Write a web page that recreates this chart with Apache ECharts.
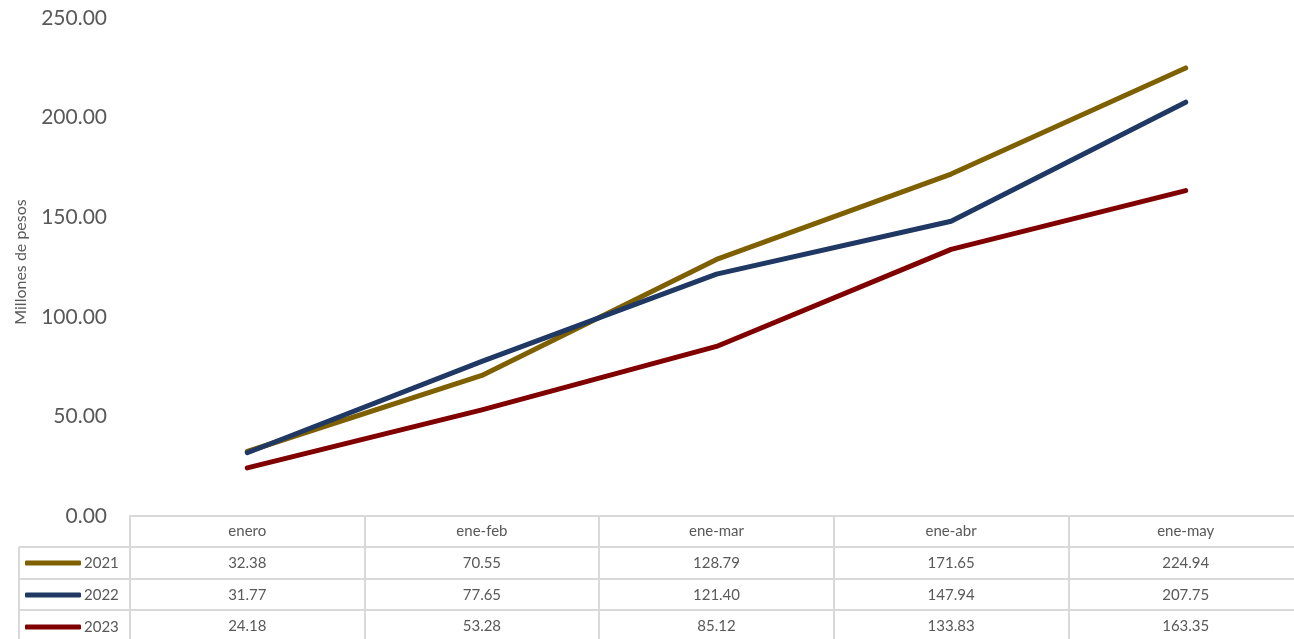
<!DOCTYPE html>
<html><head><meta charset="utf-8">
<script src="https://cdn.jsdelivr.net/npm/echarts@6/dist/echarts.min.js"></script>
<style>html,body{margin:0;padding:0;background:#fff;overflow:hidden;width:1294px;height:639px}#c{width:1303px;height:639px}</style>
</head><body><div id="c"></div>
<script>
const categories = ['enero','ene-feb','ene-mar','ene-abr','ene-may'];
const years = ['2021','2022','2023'];
const s2021 = [32.38, 70.55, 128.79, 171.65, 224.94];
const s2022 = [31.77, 77.65, 121.40, 147.94, 207.75];
const s2023 = [24.18, 53.28, 85.12, 133.83, 163.35];
const colors = ['#7f6000', '#1f3864', '#800000'];
const yTicks = [0, 50, 100, 150, 200, 250];

const seriesData = [s2021, s2022, s2023];
const FONT = 'Lato';
const TXT = '#595959';
const GRIDC = '#d9d9d9';

const chart = echarts.init(document.getElementById('c'));
const rowOffsets = [31, 63, 94];
const tickLens = [32, 31, 29];

const xAxes = [{
  type: 'category', data: categories, position: 'bottom', gridIndex: 0,
  boundaryGap: true,
  axisLine: {show: true, lineStyle: {color: GRIDC, width: 2}},
  axisTick: {show: true, length: 31, lineStyle: {color: GRIDC, width: 2}},
  axisLabel: {color: TXT, fontFamily: FONT, fontSize: 15, margin: 8}
}];
seriesData.forEach((d, i) => {
  xAxes.push({
    type: 'category', data: categories, position: 'bottom', gridIndex: 0,
    offset: rowOffsets[i], boundaryGap: true,
    axisLine: {show: true, lineStyle: {color: GRIDC, width: 2}},
    axisTick: {show: true, length: tickLens[i], lineStyle: {color: GRIDC, width: 2}},
    axisLabel: {color: TXT, fontFamily: FONT, fontSize: 15, margin: 9,
      formatter: (v, idx) => d[idx].toFixed(2)}
  });
});

chart.setOption({
  animation: false,
  color: colors,
  grid: {left: 130, top: 18, bottom: 123, right: 0},
  legend: {
    orient: 'vertical', left: 25, top: 553, itemGap: 12, padding: 0, height: 86,
    icon: 'roundRect', itemWidth: 56, itemHeight: 5,
    data: years,
    textStyle: {color: TXT, fontFamily: FONT, fontSize: 15, padding: [0,0,0,-2], lineHeight: 20}
  },
  xAxis: xAxes,
  yAxis: {
    type: 'value', min: yTicks[0], max: yTicks[yTicks.length-1], interval: 50,
    name: 'Millones de pesos', nameLocation: 'middle', nameGap: 101,
    nameTextStyle: {color: TXT, fontFamily: FONT, fontSize: 16, padding: [0,0,0,10]},
    axisLine: {show: false}, axisTick: {show: false}, splitLine: {show: false},
    axisLabel: {color: TXT, fontFamily: FONT, fontSize: 21, margin: 23,
      formatter: v => v.toFixed(2)}
  },
  series: seriesData.map((d, i) => ({
    name: years[i], type: 'line', data: d, xAxisIndex: 0,
    showSymbol: false, symbol: 'none',
    lineStyle: {width: 5, color: colors[i], cap: 'round', join: 'round'}
  }))
});

// table borders for the legend column
const rowTop = chart.convertToPixel({yAxisIndex: 0}, 0);
const ys = rowOffsets.map(o => rowTop + o);
const gx = chart.convertToPixel({xAxisIndex: 0}, categories[0]) - (chart.convertToPixel({xAxisIndex: 0}, categories[1]) - chart.convertToPixel({xAxisIndex: 0}, categories[0])) / 2;
const lines = ys.map(y => ({type: 'line', shape: {x1: 19, y1: y, x2: gx, y2: y}, style: {stroke: GRIDC, lineWidth: 2}}));
lines.push({type: 'line', shape: {x1: 19, y1: ys[0], x2: 19, y2: 639}, style: {stroke: GRIDC, lineWidth: 2}});
lines.push({type: 'line', shape: {x1: gx, y1: rowTop, x2: gx, y2: 639}, style: {stroke: GRIDC, lineWidth: 2}});
chart.setOption({graphic: lines});
</script></body></html>
